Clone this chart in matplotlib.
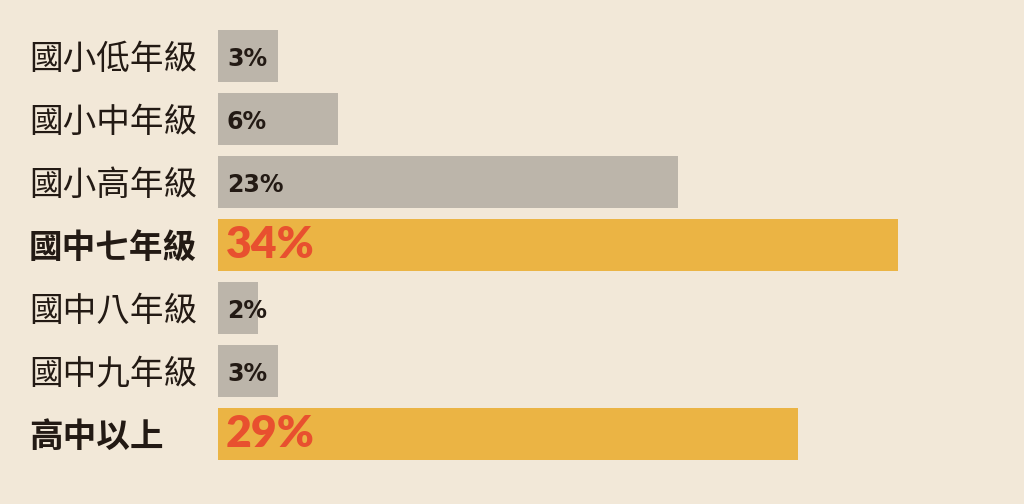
import matplotlib.pyplot as plt

categories = ['國小低年級', '國小中年級', '國小高年級', '國中七年級', '國中八年級', '國中九年級', '高中以上']
values = [3, 6, 23, 34, 2, 3, 29]
highlight = [False, False, False, True, False, False, True]

bg = '#F2E8D8'
gray = '#BCB5AA'
yellow = '#EBB444'
red = '#E8502F'
dark = '#231A14'

fig = plt.figure(figsize=(10.24, 5.04), dpi=100, facecolor=bg)
# 20 px per percent, bars start at x=218 px
ax = fig.add_axes([218 / 1024, 0, 800 / 1024, 1])
ax.set_facecolor(bg)

colors = [yellow if h else gray for h in highlight]
ypos = list(range(len(values)))
ax.barh(ypos, values, height=0.825, color=colors)

ax.set_xlim(0, 40)
ax.set_ylim(7.111, -0.889)
ax.axis('off')

for i, (cat, v, h) in enumerate(zip(categories, values, highlight)):
    ax.text(-9.45, i + 0.05, cat, ha='left', va='center', fontsize=24.2,
            family=['Noto Sans CJK TC', 'DejaVu Sans'],
            fontweight='bold' if h else 'normal', color=dark)
    if h:
        ax.text(0.4, i + 0.0, f'{v}%', ha='left', va='center', fontsize=32,
                family=['Lato', 'DejaVu Sans'], fontweight='heavy', color=red)
    else:
        ax.text(0.45, i + 0.04, f'{v}%', ha='left', va='center', fontsize=17,
                family=['DejaVu Sans'], fontweight='bold', color=dark)

fig.savefig('out.png', dpi=100, facecolor=bg)
